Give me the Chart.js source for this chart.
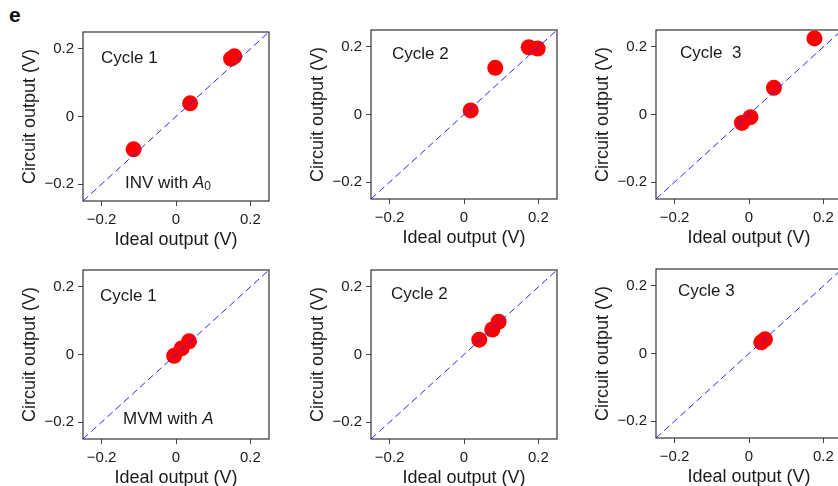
<!DOCTYPE html>
<html><head><meta charset="utf-8">
<script src="https://cdn.jsdelivr.net/npm/chart.js@4.4.0/dist/chart.umd.min.js"></script>
<style>
html,body{margin:0;padding:0;width:838px;height:486px;overflow:hidden;background:#fff;}
.p{position:absolute;}
#lab{position:absolute;left:9px;top:3px;font:bold 21px "Liberation Sans",Arial,sans-serif;color:#111;}
</style></head><body>
<div id="lab">e</div>
<div class="p" style="left:13px;top:19px"><canvas id="c1" width="268" height="232"></canvas></div>
<div class="p" style="left:301px;top:17px"><canvas id="c2" width="268" height="232"></canvas></div>
<div class="p" style="left:586px;top:17px"><canvas id="c3" width="268" height="232"></canvas></div>
<div class="p" style="left:13px;top:257px"><canvas id="c4" width="268" height="232"></canvas></div>
<div class="p" style="left:301px;top:257px"><canvas id="c5" width="268" height="232"></canvas></div>
<div class="p" style="left:586px;top:256px"><canvas id="c6" width="268" height="232"></canvas></div>
<script>
// ---- data ----
const tickVals = [-0.2, 0, 0.2];
const tickLabels = ['\u22120.2', '0', '0.2'];
const axisRange = [-0.25, 0.25];
const diagonal = [-0.25, 0.25];
const xTitle = 'Ideal output (V)';
const yTitle = 'Circuit output (V)';
const cycleLabels = ['Cycle 1', 'Cycle 2', 'Cycle  3', 'Cycle 1', 'Cycle 2', 'Cycle 3'];

// INV with A0
const inv1Ideal   = [-0.114, 0.038, 0.148, 0.157];
const inv1Circuit = [-0.097, 0.039, 0.171, 0.178];
const inv2Ideal   = [0.018, 0.084, 0.174, 0.198];
const inv2Circuit = [0.012, 0.138, 0.199, 0.195];
const inv3Ideal   = [-0.019, 0.004, 0.067, 0.176];
const inv3Circuit = [-0.025, -0.008, 0.079, 0.225];
// MVM with A
const mvm1Ideal   = [-0.005, 0.015, 0.035];
const mvm1Circuit = [-0.004, 0.018, 0.039];
const mvm2Ideal   = [0.041, 0.076, 0.093];
const mvm2Circuit = [0.044, 0.074, 0.097];
const mvm3Ideal   = [0.033, 0.043];
const mvm3Circuit = [0.033, 0.042];

const FONT = '"Liberation Sans", Arial, sans-serif';
const TXT = '#1a1a1a';

const framePlugin = {
  id: 'frame',
  beforeDatasetsDraw(chart) {
    const a = chart.chartArea, ctx = chart.ctx;
    ctx.save();
    ctx.strokeStyle = '#333333';
    ctx.lineWidth = 1.2;
    ctx.strokeRect(a.left, a.top, a.right - a.left, a.bottom - a.top);
    ctx.restore();
  }
};

const textPlugin = {
  id: 'panelText',
  afterDraw(chart, args, opts) {
    const a = chart.chartArea, ctx = chart.ctx;
    ctx.save();
    ctx.fillStyle = TXT;
    ctx.textBaseline = 'middle';
    ctx.textAlign = 'left';
    (opts.items || []).forEach(it => {
      let x = a.left + it.dx;
      const y = a.top + it.dy;
      it.parts.forEach(p => {
        const size = p.size || 17;
        ctx.font = (p.italic ? 'italic ' : '') + size + 'px ' + FONT;
        ctx.fillText(p.t, x, y + (p.dy || 0));
        x += ctx.measureText(p.t).width;
      });
    });
    ctx.restore();
  }
};

function axis(title, isX) {
  return {
    type: 'linear',
    min: axisRange[0], max: axisRange[1],
    afterBuildTicks: s => { s.ticks = tickVals.map(v => ({ value: v })); },
    afterFit: s => { if (isX) s.height = 50; else s.width = 70; },
    ticks: {
      callback: (v, i) => tickLabels[i],
      font: { family: FONT, size: 15 },
      color: TXT,
      padding: isX ? 5 : 4,
      maxRotation: 0,
      autoSkip: false
    },
    grid: { drawOnChartArea: false, drawTicks: true, tickLength: 5, color: '#444', lineWidth: 1 },
    border: { display: false },
    title: {
      display: true, text: title, color: TXT,
      font: { family: FONT, size: 18 },
      padding: isX ? { top: 0, bottom: 0 } : { top: 6, bottom: 0 }
    }
  };
}

function makeChart(id, xs, ys, items) {
  new Chart(document.getElementById(id), {
    type: 'scatter',
    data: {
      datasets: [
        {
          type: 'line',
          data: diagonal.map(v => ({ x: v, y: v })),
          borderColor: '#2626ff',
          borderWidth: 1,
          borderDash: [7, 4],
          pointRadius: 0,
          fill: false,
          order: 0
        },
        {
          data: xs.map((x, i) => ({ x: x, y: ys[i] })),
          backgroundColor: '#ff0000',
          borderWidth: 0,
          pointRadius: 8,
          pointHoverRadius: 8,
          order: 1
        }
      ]
    },
    options: {
      responsive: false,
      animation: false,
      devicePixelRatio: 1,
      layout: { padding: { left: 0, top: 12, right: 12, bottom: 0 } },
      plugins: { legend: { display: false }, tooltip: { enabled: false }, panelText: { items: items } },
      scales: { x: axis(xTitle, true), y: axis(yTitle, false) }
    },
    plugins: [framePlugin, textPlugin]
  });
}

makeChart('c1', inv1Ideal, inv1Circuit, [
  { dx: 18, dy: 26, parts: [{ t: cycleLabels[0] }] },
  { dx: 42, dy: 151, parts: [{ t: 'INV with ' }, { t: 'A', italic: true }, { t: '0', size: 12, dy: 4 }] }
]);
makeChart('c2', inv2Ideal, inv2Circuit, [{ dx: 21, dy: 24, parts: [{ t: cycleLabels[1] }] }]);
makeChart('c3', inv3Ideal, inv3Circuit, [{ dx: 24, dy: 23, parts: [{ t: cycleLabels[2] }] }]);
makeChart('c4', mvm1Ideal, mvm1Circuit, [
  { dx: 17, dy: 26, parts: [{ t: cycleLabels[3] }] },
  { dx: 40, dy: 149, parts: [{ t: 'MVM with ' }, { t: 'A', italic: true }] }
]);
makeChart('c5', mvm2Ideal, mvm2Circuit, [{ dx: 20, dy: 24, parts: [{ t: cycleLabels[4] }] }]);
makeChart('c6', mvm3Ideal, mvm3Circuit, [{ dx: 22, dy: 22, parts: [{ t: cycleLabels[5] }] }]);
</script>
</body></html>
